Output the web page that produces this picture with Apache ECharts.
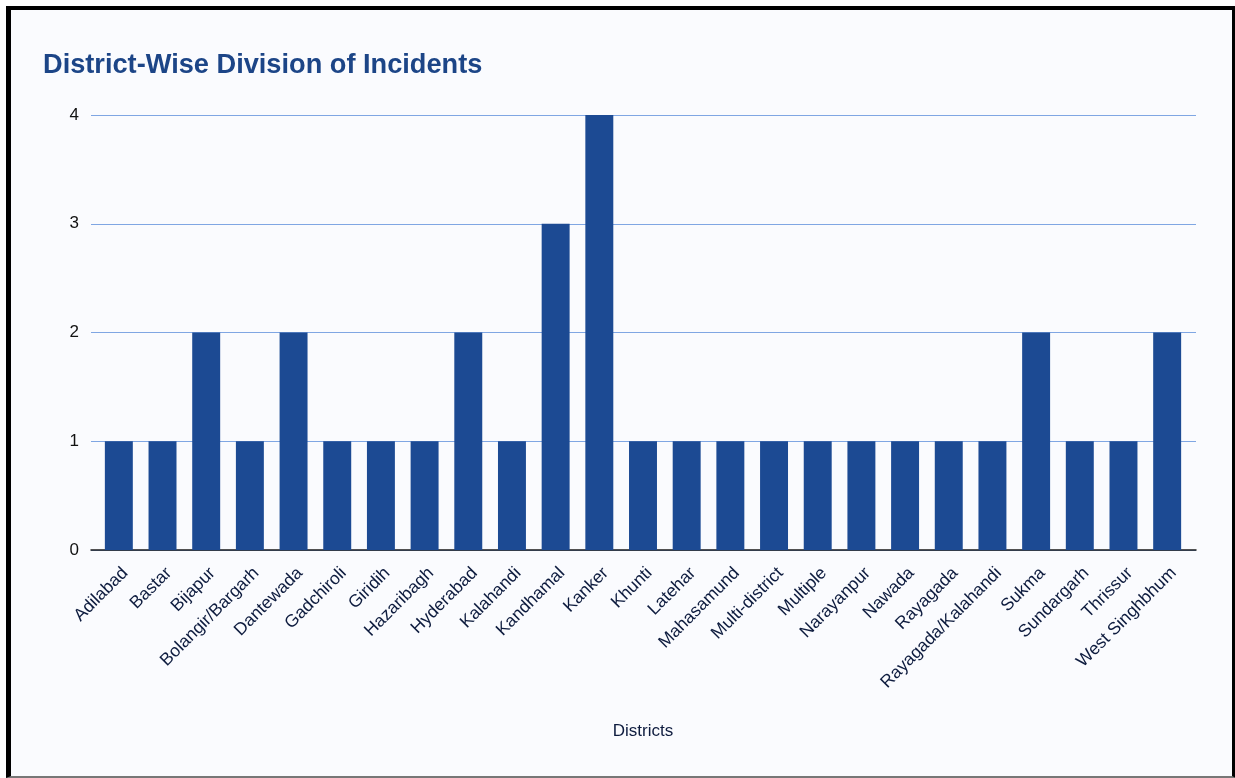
<!DOCTYPE html>
<html>
<head>
<meta charset="utf-8">
<script src="https://cdn.jsdelivr.net/npm/echarts@6/dist/echarts.min.js"></script>
<style>
html,body{margin:0;padding:0;background:#ffffff;width:1235px;height:778px;overflow:hidden;}
#frame{position:absolute;left:6px;top:6px;width:1221px;height:766px;border-left:5px solid #000;border-top:4px solid #000;border-right:4px solid #000;border-bottom:2px solid #777;background:#fafbfe;box-sizing:content-box;}
#chart{position:absolute;left:0;top:0;width:1235px;height:778px;}
</style>
</head>
<body>
<div id="frame"></div>
<div id="chart"></div>
<script>
const categories = ["Adilabad","Bastar","Bijapur","Bolangir/Bargarh","Dantewada","Gadchiroli","Giridih","Hazaribagh","Hyderabad","Kalahandi","Kandhamal","Kanker","Khunti","Latehar","Mahasamund","Multi-district","Multiple","Narayanpur","Nawada","Rayagada","Rayagada/Kalahandi","Sukma","Sundargarh","Thrissur","West Singhbhum"];
const incidents = [1,1,2,1,2,1,1,1,2,1,3,4,1,1,1,1,1,1,1,1,1,2,1,1,2];
const yTicks = {min: 0, max: 4, interval: 1};
const titleText = "District-Wise Division of Incidents";
const xAxisTitle = "Districts";

const FONT = 'Liberation Sans, Arial, Helvetica, sans-serif';
const chart = echarts.init(document.getElementById('chart'), null, {renderer:'canvas'});
chart.setOption({
  backgroundColor: 'transparent',
  animation: false,
  title: {
    text: titleText,
    left: 38, top: 47,
    textStyle: {fontFamily: FONT, fontSize: 27.2, fontWeight: 'bold', color: '#1c4587'}
  },
  grid: [
    {left: 91, right: 39, top: 115, bottom: 228},   // gridlines frame
    {left: 97, right: 46, top: 115, bottom: 228}    // bars
  ],
  xAxis: [
    {
      type: 'value', gridIndex: 0, min: 0, max: 1, show: true,
      axisLabel: {show: false}, axisTick: {show: false}, splitLine: {show: false},
      axisLine: {show: true, onZero: false, lineStyle: {color: '#1a1a1a', width: 1.5}}
    },
    {
      type: 'category', gridIndex: 1,
      data: categories,
      name: xAxisTitle,
      nameLocation: 'middle',
      nameGap: 173,
      nameTextStyle: {fontFamily: FONT, fontSize: 17, color: '#0d1b3e'},
      axisLine: {show: false},
      axisTick: {show: false},
      axisLabel: {rotate: 45, interval: 0, margin: 14, align: 'right', verticalAlign: 'top', fontFamily: FONT, fontSize: 17.5, color: '#0d1b3e'}
    }
  ],
  yAxis: [
    {
      type: 'value', gridIndex: 0,
      min: yTicks.min, max: yTicks.max, interval: yTicks.interval,
      axisLine: {show: false},
      axisTick: {show: false},
      axisLabel: {margin: 12, fontFamily: FONT, fontSize: 17, color: '#111'},
      splitLine: {lineStyle: {color: '#7fa6e3', width: 1.2}}
    },
    {
      type: 'value', gridIndex: 1,
      min: yTicks.min, max: yTicks.max, interval: yTicks.interval,
      show: false, splitLine: {show: false}
    }
  ],
  series: [{
    type: 'bar',
    xAxisIndex: 1, yAxisIndex: 1,
    data: incidents,
    barWidth: '64%',
    itemStyle: {color: '#1c4a93'}
  }]
});
</script>
</body>
</html>
